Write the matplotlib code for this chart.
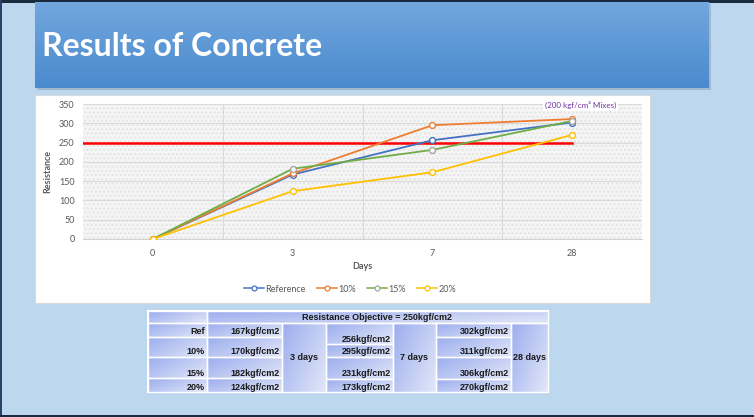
import numpy as np
import matplotlib.pyplot as plt
from matplotlib.patches import Rectangle
from matplotlib.lines import Line2D
from matplotlib.colors import to_rgb

# ---- data ----
day_labels = ['0', '3', '7', '28']
mixes = ['Ref', '10%', '15%', '20%']
series_names = ['Reference', '10%', '15%', '20%']
res_3 = [167, 170, 182, 124]
res_7 = [256, 295, 231, 173]
res_28 = [302, 311, 306, 270]
objective = 248
table_days = ['3 days', '7 days', '28 days']
table_header = 'Resistance Objective = 250kgf/cm2'

line_colors = ['#4472c4', '#ed7d31', '#70ad47', '#ffc000']
marker_edges = ['#4472c4', '#ed7d31', '#a5a5a5', '#ffc000']

W, H = 754, 417
fig = plt.figure(figsize=(W / 100, H / 100), dpi=100)
fig.patch.set_facecolor('#bdd7ee')

# overlay axes in pixel coordinates for the slide decorations
bg = fig.add_axes([0, 0, 1, 1])
bg.set_xlim(0, W)
bg.set_ylim(H, 0)
bg.axis('off')
bg.set_zorder(0)

# slide frame
bg.add_patch(Rectangle((0, 0), W, 2.5, color='#1c2a40', lw=0))
bg.add_patch(Rectangle((0, 0), 1.5, H, color='#2c4166', lw=0))
bg.add_patch(Rectangle((0, 414.5), W, 3, color='#1c2a40', lw=0))


def gradient(ax, x0, y0, x1, y1, c_start, c_end, direction='v'):
    n = 64
    a, b = np.array(to_rgb(c_start)), np.array(to_rgb(c_end))
    if direction == 'v':
        t = np.linspace(0, 1, n)[:, None] * np.ones((1, 2))
    else:
        xx, yy = np.meshgrid(np.linspace(0, 1, n), np.linspace(0, 1, n))
        t = (xx * 0.6 + yy * 0.4)
    img = a[None, None, :] * (1 - t[..., None]) + b[None, None, :] * t[..., None]
    ax.imshow(img, extent=(x0, x1, y1, y0), aspect='auto', interpolation='bilinear', zorder=2)


# title banner
bg.add_patch(Rectangle((37, 4), 674, 86, color='#7f93ab', alpha=0.45, lw=0, zorder=1))
gradient(bg, 35, 2.5, 709, 88, '#72a7de', '#4a8ace')
bg.text(42, 46, 'Results of Concrete', color='white', fontsize=23, fontweight='bold',
        family='Lato', va='center', ha='left', zorder=3)

# white chart box
bg.add_patch(Rectangle((35, 95), 615, 208, facecolor='white', edgecolor='#d9d9d9', lw=0.8, zorder=1))

# ---- chart ----
px0, px1, py0, py1 = 83, 642, 104, 239
ax = fig.add_axes([px0 / W, 1 - py1 / H, (px1 - px0) / W, (py1 - py0) / H])
ax.set_zorder(2)
ax.set_facecolor('#f5f5f5')
ax.add_patch(Rectangle((0, 0), 1, 1, transform=ax.transAxes, facecolor='none',
                       edgecolor='#e4e4e4', hatch='....', lw=0, zorder=0))
x = np.arange(len(day_labels))
ax.set_xlim(-0.5, len(day_labels) - 0.5)
ax.set_ylim(0, 350)
ax.set_yticks(range(0, 351, 50))
ax.set_xticks(x)
ax.set_xticklabels(day_labels)
for yv in range(50, 351, 50):
    ax.axhline(yv, color='#dadada', lw=0.8, zorder=1)
for xv in x[:-1] + 0.5:
    ax.axvline(xv, color='#dadada', lw=0.8, zorder=1)
for s in ['top', 'right', 'left']:
    ax.spines[s].set_visible(False)
ax.spines['bottom'].set_color('#d0d0d0')
ax.tick_params(length=0, labelsize=6.5, colors='#595959')
for lab in ax.get_xticklabels() + ax.get_yticklabels():
    lab.set_family('Lato')
ax.tick_params(axis='x', pad=7)
ax.tick_params(axis='y', pad=6)

ax.plot([-0.5, x[-1]], [objective, objective], color='#ff0000', lw=1.8, zorder=3)

all_series = [[0] + [res_3[i], res_7[i], res_28[i]] for i in range(len(mixes))]
handles = []
for vals, name, c, me in zip(all_series, series_names, line_colors, marker_edges):
    ax.plot(x, vals, color=c, lw=1.3, marker='o', ms=4.2, mfc='white', mec=me, mew=1.0, zorder=4)
    handles.append(Line2D([], [], color=c, lw=1.1, marker='o', ms=3.5, mfc='white', mec=me, mew=0.9))

ax.set_ylabel('Resistance', fontsize=6.5, fontweight='bold', color='#595959', family='Lato', labelpad=5)
ax.set_xlabel('Days', fontsize=6.5, fontweight='bold', color='#595959', family='Lato', labelpad=3)
fig.legend(handles, series_names, loc='center', bbox_to_anchor=(350 / W, 1 - 289 / H), ncol=4,
           frameon=False, prop={'family': 'Lato', 'size': 6.5}, labelcolor='#595959',
           handlelength=2.2, handletextpad=0.2, columnspacing=1.2)

# ---- table ----
tab = fig.add_axes([0, 0, 1, 1])
tab.set_xlim(0, W)
tab.set_ylim(H, 0)
tab.axis('off')
tab.set_zorder(3)

tab.text(545, 105, '(200 kgf/cm\u00b2 Mixes)', color='#7030a0', fontsize=5.8, family='Lato',
         va='center', ha='left', zorder=5,
         bbox=dict(facecolor='white', edgecolor='none', pad=1.5))

col_x = [148, 207, 282, 326, 393, 436, 511, 548]
head_y = (311, 323)
rows_left = [323, 337, 357, 378, 392]
rows_7 = [323, 344, 357, 379, 392]
rows_28 = [323, 337, 357, 379, 392]
c_dark, c_light = '#9badee', '#e2e7f8'
tfont = dict(family='Liberation Sans', fontweight='bold', fontsize=6.5, color='#1a1a1a', zorder=4)


def cell(x0, x1, y0, y1):
    gradient(tab, x0, y0, x1, y1, c_dark, c_light, direction='d')
    tab.add_patch(Rectangle((x0, y0), x1 - x0, y1 - y0, facecolor='none', edgecolor='white', lw=1.0, zorder=3))


tab.add_patch(Rectangle((col_x[0] - 1, head_y[0] - 1), col_x[-1] - col_x[0] + 2, rows_left[-1] - head_y[0] + 2,
                        facecolor='white', edgecolor='none', zorder=1))
cell(col_x[0], col_x[1], *head_y)
cell(col_x[1], col_x[-1], *head_y)
tab.text((col_x[1] + col_x[-1]) / 2, sum(head_y) / 2, table_header, ha='center', va='center', **tfont)

for i, m in enumerate(mixes):
    cell(col_x[0], col_x[1], rows_left[i], rows_left[i + 1])
    tab.text(col_x[1] - 2, rows_left[i + 1] - 5, m, ha='right', va='center', **tfont)
    cell(col_x[1], col_x[2], rows_left[i], rows_left[i + 1])
    tab.text(col_x[2] - 2, rows_left[i + 1] - 5, f'{res_3[i]}kgf/cm2', ha='right', va='center', **tfont)
    cell(col_x[3], col_x[4], rows_7[i], rows_7[i + 1])
    tab.text(col_x[4] - 2, rows_7[i + 1] - 5, f'{res_7[i]}kgf/cm2', ha='right', va='center', **tfont)
    cell(col_x[5], col_x[6], rows_28[i], rows_28[i + 1])
    tab.text(col_x[6] - 2, rows_28[i + 1] - 5, f'{res_28[i]}kgf/cm2', ha='right', va='center', **tfont)

for j, label in enumerate(table_days):
    x0, x1 = col_x[2 + 2 * j], col_x[3 + 2 * j]
    cell(x0, x1, rows_left[0], rows_left[-1])
    tab.text((x0 + x1) / 2, (rows_left[0] + rows_left[-1]) / 2, label, ha='center', va='center', **tfont)

fig.savefig('out.png', dpi=100)
